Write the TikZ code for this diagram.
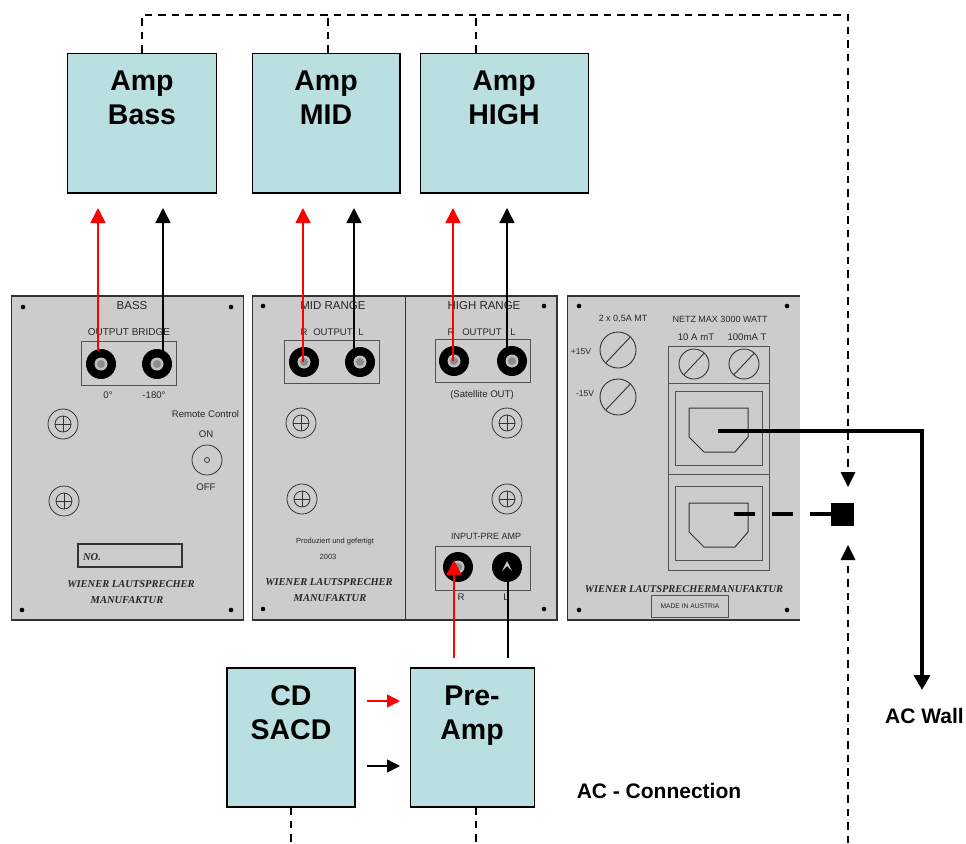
\documentclass[tikz,border=0pt]{standalone}
\usepackage{fontspec}
\setmainfont{Liberation Sans}
\newfontfamily\serifbi[BoldFont={Liberation Serif Bold Italic}]{Liberation Serif}
\usetikzlibrary{arrows.meta}
\definecolor{boxfill}{HTML}{B9DFE1}
\definecolor{panelfill}{HTML}{CCCCCC}
\definecolor{sigred}{HTML}{FF0000}
\definecolor{edge}{HTML}{333333}
\tikzset{
  ampbox/.style={draw=black,line width=1.2pt,fill=boxfill,inner sep=0pt,outer sep=0pt,anchor=north west},
  panel/.style={draw=edge,line width=1.3pt,fill=panelfill},
  thinbox/.style={draw=edge!85!white,line width=1pt},
  lab/.style={inner sep=0pt,text=black!85,font=\fontsize{9.6}{12}\selectfont},
  labb/.style={inner sep=0pt,text=black!85,font=\fontsize{11.5}{13}\selectfont},
  brand/.style={inner sep=0pt,text=black!85,font=\fontsize{10.5}{12}\serifbi\bfseries},
  title/.style={inner sep=0pt,align=center,font=\fontsize{28.5}{34}\selectfont\bfseries},
  note/.style={inner sep=0pt,font=\fontsize{21}{24}\selectfont\bfseries},
  jackbody/.style={circle,fill=black,inner sep=0pt,minimum size=30pt},
  redline/.style={draw=sigred,line width=1.5pt,-{Triangle[length=15pt,width=15pt]}},
  blackline/.style={draw=black,line width=1.5pt,-{Triangle[length=15pt,width=15pt]}},
  redshort/.style={draw=sigred,line width=1.5pt,-{Triangle[length=13pt,width=13pt]}},
  blackshort/.style={draw=black,line width=1.5pt,-{Triangle[length=13pt,width=13pt]}},
  dashline/.style={draw=black,line width=1.4pt,dash pattern=on 7.5pt off 6pt},
  powerline/.style={draw=black,line width=4pt},
}
\newcommand{\jack}[3]{%
  \node[jackbody] (#1) at (#2,#3) {};
  \fill[white!75!black] (#2,#3) circle (6.5pt);
  \fill[black!45] (#2,#3) circle (4pt);
}
\newcommand{\screw}[2]{%
  \draw[edge,line width=.8pt] (#1,#2) circle (15pt) circle (8pt);
  \draw[edge,line width=.8pt] (#1-8,#2) -- (#1+8,#2) (#1,#2-8) -- (#1,#2+8);
}
\newcommand{\fuse}[3]{%
  \draw[edge,line width=.9pt] (#1,#2) circle (#3 pt);
  \draw[edge,line width=.9pt] (#1-.68*#3,#2+.72*#3) -- (#1+.68*#3,#2-.72*#3);
}
\newcommand{\pdot}[2]{\fill[black] (#1,#2) circle (2.3pt);}
\newcommand{\socket}[2]{%
  \draw[edge,line width=1pt] (689,#1) -- (748,#1) -- (748,#1+29) -- (735,#2) -- (704,#2) -- (689,#1+29) -- cycle;
}
\begin{document}
\begin{tikzpicture}[x=1pt,y=-1pt]
\useasboundingbox (0,0) rectangle (966,843);
% amplifier boxes
\node[ampbox,minimum width=149pt,minimum height=139.5pt] (ampbass) at (67.5,53.5) {};
\node[ampbox,minimum width=147.5pt,minimum height=139.5pt] (ampmid) at (252.5,53.5) {};
\node[ampbox,minimum width=168pt,minimum height=139.5pt] (amphigh) at (420.5,53.5) {};
\node[title] (tbass) at (142,98) {Amp\\Bass};
\node[title] (tmid) at (326,98) {Amp\\MID};
\node[title] (thigh) at (504,98) {Amp\\HIGH};
\node[ampbox,minimum width=128pt,minimum height=139pt] (cd) at (227,668) {};
\node[ampbox,minimum width=124pt,minimum height=139pt] (pre) at (410.5,668) {};
\node[title] (tcd) at (291,713) {CD\\SACD};
\node[title] (tpre) at (472,716) {Pre-\\Amp};
% panels
\draw[panel] (11.5,296) rectangle (243.5,620);
\draw[panel] (252.5,296) rectangle (557,620);
\draw[edge,line width=1.1pt] (405.5,296) -- (405.5,620);
\fill[panelfill] (567.5,296) rectangle (800,620);
\draw[edge,line width=1.3pt] (800,296) -- (567.5,296) -- (567.5,620) -- (800,620);
% panel 1
\pdot{23}{307}\pdot{231}{307}\pdot{22}{610}\pdot{231}{610}
\node[labb] (l1) at (132,306) {BASS};
\node[labb,font=\fontsize{10}{12}\selectfont] (l2) at (129,332) {OUTPUT BRIDGE};
\draw[thinbox] (81,341) rectangle (176,385);
\jack{jbr}{101}{364}\jack{jbl}{157}{364}
\node[lab] (l3) at (108,395) {0°};
\node[lab] (l4) at (154,395) {-180°};
\screw{63}{424}\screw{64}{501}
\node[lab] (l5) at (205.5,414) {Remote Control};
\node[lab] (l6) at (206,434) {ON};
\node[lab] (l7) at (206,487) {OFF};
\draw[edge,line width=.8pt] (207,460) circle (15pt);
\draw[edge,line width=.8pt] (207,460) circle (2.5pt);
\draw[edge,line width=1.2pt] (78,544) rectangle (182,567);
\node[inner sep=0pt,text=black!85,font=\fontsize{10.5}{12}\serifbi\bfseries] (l8) at (92,557) {NO.};
\node[brand] (l9) at (131,584) {WIENER LAUTSPRECHER};
\node[brand] (l10) at (127,600) {MANUFAKTUR};
% panel 2 mid
\pdot{263}{306}\pdot{544}{306}\pdot{263}{609}\pdot{544}{609}
\node[labb] (m1) at (333,306) {MID RANGE};
\node[lab] (m2) at (304,332) {R};
\node[lab] (m3) at (333,332) {OUTPUT};
\node[lab] (m4) at (361,332) {L};
\draw[thinbox] (284,340) rectangle (379,383);
\jack{jmr}{304}{362}\jack{jml}{360}{362}
\screw{301}{423}\screw{302}{499}
\node[inner sep=0pt,text=black!85,font=\fontsize{7.5}{9}\selectfont] (m5) at (335,542) {Produziert und gefertigt};
\node[inner sep=0pt,text=black!85,font=\fontsize{7.5}{9}\selectfont] (m6) at (328,557) {2003};
\node[brand] (m7) at (329,582) {WIENER LAUTSPRECHER};
\node[brand] (m8) at (330,598) {MANUFAKTUR};
% panel 2 high
\node[labb] (h1) at (484,306) {HIGH RANGE};
\node[lab] (h2) at (451,332) {R};
\node[lab] (h3) at (482,332) {OUTPUT};
\node[lab] (h4) at (513,332) {L};
\draw[thinbox] (435,339) rectangle (530,382);
\jack{jhr}{454}{361}\jack{jhl}{512}{361}
\node[lab] (h5) at (482,395) {(Satellite OUT)};
\screw{507}{423}\screw{507}{499}
\node[inner sep=0pt,text=black!85,font=\fontsize{9}{11}\selectfont] (h6) at (486,536) {INPUT-PRE AMP};
\draw[thinbox] (435,546) rectangle (530,590);
\jack{jir}{458}{567}
\node[jackbody] (jil) at (507,567) {};
\node[lab] (h7) at (461,597) {R};
\node[lab] (h8) at (506,597) {L};
% panel 3
\pdot{579}{306}\pdot{787}{306}\pdot{579}{610}\pdot{787}{610}
\node[inner sep=0pt,text=black!85,font=\fontsize{9}{11}\selectfont] (p1) at (623,319) {2 x 0,5A MT};
\node[inner sep=0pt,text=black!85,font=\fontsize{9}{11}\selectfont] (p2) at (720,319) {NETZ MAX 3000 WATT};
\node[lab] (p3) at (696,337) {10 A mT};
\node[lab] (p4) at (747,337) {100mA T};
\node[inner sep=0pt,text=black!85,font=\fontsize{8.5}{10}\selectfont] (p5) at (581,352) {+15V};
\node[inner sep=0pt,text=black!85,font=\fontsize{8.5}{10}\selectfont] (p6) at (585,394) {-15V};
\fuse{618}{350}{18}\fuse{618}{397}{18}\fuse{694}{364}{15}\fuse{744}{364}{15}
\draw[thinbox] (668,346) rectangle (769,570);
\draw[thinbox] (668,383) -- (769,383) (668,474) -- (769,474);
\draw[thinbox] (675,391) rectangle (762,465);
\draw[thinbox] (675,486) rectangle (762,560);
\socket{408}{452}\socket{503}{547}
\node[brand,font=\fontsize{10.4}{12}\serifbi\bfseries] (p7) at (684,589) {WIENER LAUTSPRECHERMANUFAKTUR};
\draw[thinbox] (651,595) rectangle (728,617);
\node[inner sep=0pt,text=black!85,font=\fontsize{6.7}{8}\selectfont] (p8) at (690,606) {MADE IN AUSTRIA};
% signal connections
\coordinate (sa) at (98,351); \coordinate (ta) at (98,208);
\coordinate (sb) at (163,351); \coordinate (tb) at (163,208);
\coordinate (sc) at (303,362); \coordinate (tc) at (303,208);
\coordinate (sd) at (354,349); \coordinate (td) at (354,208);
\coordinate (se) at (453,361); \coordinate (te) at (453,208);
\coordinate (sf) at (507,348); \coordinate (tf) at (507,208);
\draw[redline] (sa) -- (ta);
\draw[blackline] (sb) -- (tb);
\draw[redline] (sc) -- (tc);
\draw[blackline] (sd) -- (td);
\draw[redline] (se) -- (te);
\draw[blackline] (sf) -- (tf);
\coordinate (sg) at (454,658); \coordinate (tg) at (454,560);
\coordinate (sh) at (508,658); \coordinate (th) at (508,560);
\draw[redline] (sg) -- (tg);
\fill[white!80!black] (502,571) -- (507,561) -- (512,571) -- (507,566) -- cycle;
\draw[black,line width=1.5pt] (sh) -- (508,582);
\coordinate (ci) at (367,701); \coordinate (cj) at (400,701);
\coordinate (ck) at (367,766); \coordinate (cl) at (400,766);
\draw[redshort] (ci) -- (cj);
\draw[blackshort] (ck) -- (cl);
% power connections
\node[fill=black,inner sep=0pt,outer sep=0pt,minimum size=23pt] (plug) at (842,514) {};
\coordinate (sk1) at (718,431); \coordinate (wall) at (922,690);
\draw[powerline,-{Triangle[length=15pt,width=16pt]}] (sk1) -| (wall);
\coordinate (sk2) at (734,514);
\draw[powerline,dash pattern=on 21pt off 17pt] (sk2) -- (plug.west);
\coordinate (ta1) at (142,53); \coordinate (ta2) at (328,53); \coordinate (ta3) at (476,53);
\coordinate (topr) at (848,15); \coordinate (tipu) at (848,485); \coordinate (tipd) at (848,545);
\coordinate (bt) at (848,843); \coordinate (bc) at (291,843); \coordinate (bp) at (476,843);
\draw[dashline] (ta1) |- (topr) -- (848,472);
\draw[dashline] (ta2) -- (ta2 |- topr);
\draw[dashline] (ta3) -- (ta3 |- topr);
\draw[dashline] (bt) -- (848,560);
\fill (840.5,472) -- (855.5,472) -- (848,487) -- cycle;
\fill (840.5,560) -- (855.5,560) -- (848,545) -- cycle;
\draw[dashline] (cd.south -| bc) -- (bc);
\draw[dashline] (pre.south -| bp) -- (bp);
\node[note] (acw) at (924.5,716) {AC Wall};
\node[note] (acc) at (659,791) {AC - Connection};
\end{tikzpicture}
\end{document}
